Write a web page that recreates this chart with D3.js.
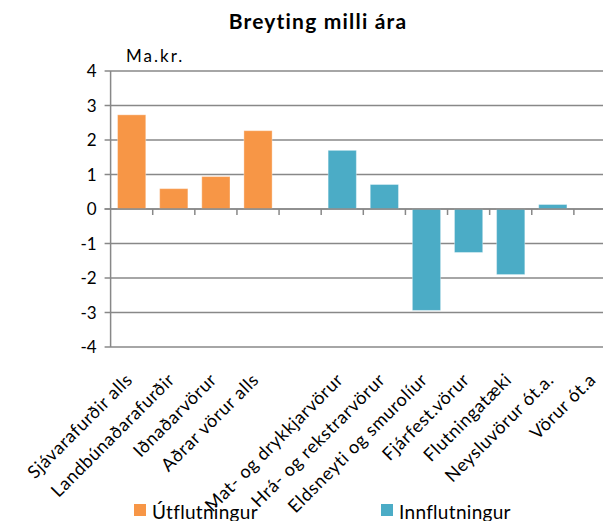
<!DOCTYPE html>
<html>
<head>
<meta charset="utf-8">
<script src="https://cdn.jsdelivr.net/npm/d3@7"></script>
<style>
  body { margin: 0; background: #fff; }
  text { font-family: Lato, "Open Sans", sans-serif; fill: #000; }
</style>
</head>
<body>
<div id="viz"></div>
<script>
// ── DATA ─────────────────────────────────────────────────────────────────────
const categories = [
  "Sjávarafurðir alls", "Landbúnaðarafurðir", "Iðnaðarvörur", "Aðrar vörur alls", "",
  "Mat- og drykkjarvörur", "Hrá- og rekstrarvörur", "Eldsneyti og smurolíur",
  "Fjárfest.vörur", "Flutningatæki", "Neysluvörur ót.a.", "Vörur ót.a"
];
const utflutningur  = [2.73, 0.59, 0.94, 2.27, null, null, null, null, null, null, null, null];
const innflutningur = [null, null, null, null, null, 1.70, 0.71, -2.94, -1.26, -1.90, 0.13, 0];
const yTicks = [-4, -3, -2, -1, 0, 1, 2, 3, 4];
const seriesNames = ["Útflutningur", "Innflutningur"];
const colors = ["#F79646", "#4BACC6"];

// ── SETTINGS ────────────────────────────────────────────────────────────────
const width = 603, height = 521;
const plotLeft = 110.6, plotRight = 616, plotTop = 71, plotBottom = 347;

const svg = d3.select("#viz").append("svg")
    .attr("width", width)
    .attr("height", height);

const x = d3.scaleBand()
    .domain(d3.range(categories.length))
    .range([plotLeft, plotRight])
    .paddingInner(0.33)
    .paddingOuter(0.165);

const y = d3.scaleLinear().domain([-4, 4]).range([plotBottom, plotTop]);

// gridlines
svg.append("g")
  .selectAll("line")
  .data(yTicks)
  .join("line")
    .attr("x1", plotLeft - 6)
    .attr("x2", plotRight)
    .attr("y1", d => y(d))
    .attr("y2", d => y(d))
    .attr("stroke", "#888")
    .attr("stroke-width", 1.5);

// y axis line
svg.append("line")
    .attr("x1", plotLeft).attr("x2", plotLeft)
    .attr("y1", plotTop).attr("y2", plotBottom)
    .attr("stroke", "#888")
    .attr("stroke-width", 1.5);

// y labels
svg.append("g")
  .selectAll("text")
  .data(yTicks)
  .join("text")
    .attr("x", plotLeft - 14)
    .attr("y", d => y(d) + 6)
    .attr("text-anchor", "end")
    .attr("font-size", "17px")
    .text(d => d);

// bars
const series = [utflutningur, innflutningur];
series.forEach((vals, s) => {
  svg.append("g")
    .selectAll("rect")
    .data(vals.map((v, i) => ({ i, v })).filter(d => d.v !== null && d.v !== 0))
    .join("rect")
      .attr("x", d => x(d.i))
      .attr("width", x.bandwidth())
      .attr("y", d => y(Math.max(0, d.v)))
      .attr("height", d => Math.abs(y(d.v) - y(0)))
      .attr("fill", colors[s])
      .attr("stroke", "#fff")
      .attr("stroke-opacity", 0.35)
      .attr("stroke-width", 1);
});

// zero line on top with category ticks
svg.append("line")
    .attr("x1", plotLeft - 6).attr("x2", plotRight)
    .attr("y1", y(0)).attr("y2", y(0))
    .attr("stroke", "#888")
    .attr("stroke-width", 1.5);

svg.append("g")
  .selectAll("line")
  .data(d3.range(1, categories.length))
  .join("line")
    .attr("x1", i => x(i) - x.step() * 0.165)
    .attr("x2", i => x(i) - x.step() * 0.165)
    .attr("y1", y(0))
    .attr("y2", y(0) + 6)
    .attr("stroke", "#888")
    .attr("stroke-width", 1.5);

// category labels
svg.append("g")
  .selectAll("text")
  .data(categories)
  .join("text")
    .attr("transform", (d, i) => `translate(${x(i) + x.bandwidth() / 2 + 2},${plotBottom + 34}) rotate(-45)`)
    .attr("text-anchor", "end")
    .attr("font-size", "18px")
    .attr("letter-spacing", "0.6px")
    .text(d => d);

// title and unit
svg.append("text")
    .attr("x", 318)
    .attr("y", 29)
    .attr("text-anchor", "middle")
    .attr("font-size", "21px")
    .attr("font-weight", "bold")
    .attr("letter-spacing", "1.2px")
    .text("Breyting milli ára");

svg.append("text")
    .attr("x", 126)
    .attr("y", 62)
    .attr("font-size", "17px")
    .attr("letter-spacing", "2px")
    .text("Ma.kr.");

// legend
const legendX = [134, 381];
seriesNames.forEach((name, s) => {
  svg.append("rect")
      .attr("x", legendX[s]).attr("y", 504)
      .attr("width", 12).attr("height", 12)
      .attr("fill", colors[s]);
  svg.append("text")
      .attr("x", legendX[s] + 18)
      .attr("y", 519)
      .attr("font-size", "19px")
      .attr("letter-spacing", "0.3px")
      .text(name);
});
</script>
</body>
</html>
